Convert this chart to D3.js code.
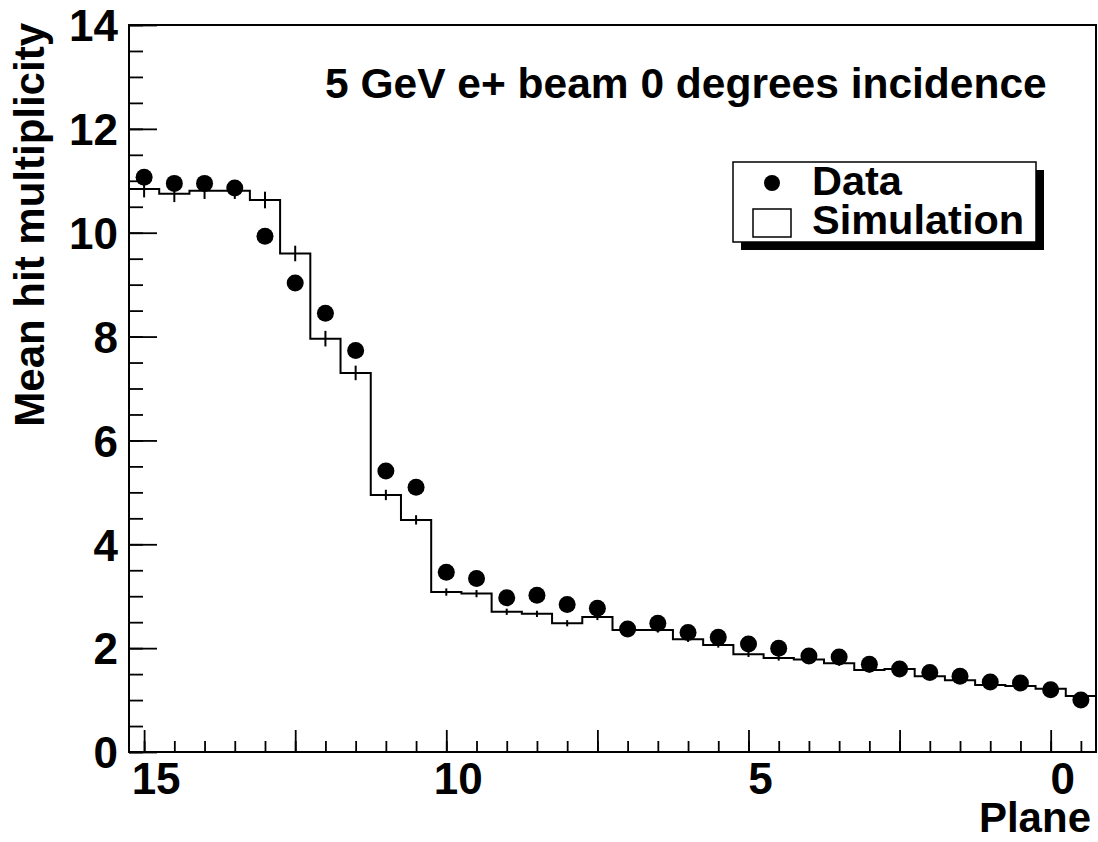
<!DOCTYPE html>
<html>
<head>
<meta charset="utf-8">
<script src="https://cdn.jsdelivr.net/npm/d3@7"></script>
<style>
  html, body { margin: 0; padding: 0; background: #fff; }
  svg { display: block; }
  text { font-family: "Liberation Sans", Arial, Helvetica, sans-serif; font-weight: bold; fill: #000; }
</style>
</head>
<body>
<svg id="chart" width="1098" height="842"></svg>
<script>
// Plane numbers (half-plane bins), from the front of the stack to the back
const planes = [15, 14.5, 14, 13.5, 13, 12.5, 12, 11.5, 11, 10.5, 10, 9.5, 9, 8.5, 8, 7.5,
                7, 6.5, 6, 5.5, 5, 4.5, 4, 3.5, 3, 2.5, 2, 1.5, 1, 0.5, 0, -0.5];

// Measured mean hit multiplicity
const dataValues = [11.07, 10.95, 10.95, 10.86, 9.93, 9.03, 8.45, 7.73, 5.41, 5.10, 3.46, 3.34,
                    2.97, 3.02, 2.84, 2.77, 2.37, 2.48, 2.30, 2.21, 2.08, 2.00, 1.85, 1.83,
                    1.69, 1.60, 1.53, 1.46, 1.35, 1.33, 1.20, 1.00];

// Simulated mean hit multiplicity and its statistical error
const simValues = [10.84, 10.75, 10.81, 10.81, 10.63, 9.60, 7.96, 7.30, 4.95, 4.47, 3.08, 3.05,
                   2.70, 2.66, 2.48, 2.60, 2.35, 2.35, 2.17, 2.06, 1.88, 1.81, 1.78, 1.71,
                   1.58, 1.60, 1.46, 1.38, 1.29, 1.27, 1.22, 1.08];
const simErrors = [0.16, 0.16, 0.16, 0.16, 0.16, 0.15, 0.15, 0.14, 0.10, 0.09, 0.07, 0.07,
                   0.06, 0.06, 0.06, 0.06, 0.05, 0.05, 0.05, 0.05, 0.05, 0.05, 0.05, 0.05,
                   0.05, 0.05, 0.04, 0.04, 0.04, 0.04, 0.04, 0.04];

// Axis ticks
const xLabelTicks = [15, 10, 5, 0];
const xMajorTicks = [15, 12.5, 10, 7.5, 5, 2.5, 0];
const xMinorTicks = d3.range(15, -0.51, -0.5);
const yLabelTicks = [0, 2, 4, 6, 8, 10, 12, 14];
const yMinorTicks = d3.range(0, 14.01, 0.5);

const titleText = "5 GeV e+ beam 0 degrees incidence";
const xTitle = "Plane";
const yTitle = "Mean hit multiplicity";
const legendLabels = ["Data", "Simulation"];

const binWidth = 0.5;
const svg = d3.select("#chart");
const frame = { left: 129, right: 1096, top: 25, bottom: 752 };

const x = d3.scaleLinear().domain([15.25, -0.75]).range([frame.left, frame.right]);
const y = d3.scaleLinear().domain([0, 14]).range([frame.bottom, frame.top]);

// Y axis: minor + major ticks pointing into the frame
const gy = svg.append("g").attr("transform", `translate(${frame.left},0)`);
gy.call(d3.axisLeft(y).tickValues(yMinorTicks).tickSize(-14).tickFormat(""))
  .call(g => g.select(".domain").remove());
const gyMaj = svg.append("g").attr("transform", `translate(${frame.left},0)`);
gyMaj.call(d3.axisLeft(y).tickValues(yLabelTicks).tickSize(-28).tickPadding(11).tickFormat(d3.format("d")))
  .call(g => g.select(".domain").remove());
gyMaj.selectAll("text").attr("font-size", 44).attr("font-family", null).attr("dy", "0.36em");

// X axis: reversed plane scale
const gx = svg.append("g").attr("transform", `translate(0,${frame.bottom})`);
gx.call(d3.axisBottom(x).tickValues(xMinorTicks).tickSize(-11).tickFormat(""))
  .call(g => g.select(".domain").remove());
const gxMaj = svg.append("g").attr("transform", `translate(0,${frame.bottom})`);
gxMaj.call(d3.axisBottom(x).tickValues(xMajorTicks).tickSize(-22).tickFormat(""))
  .call(g => g.select(".domain").remove());
svg.selectAll("g .tick line").attr("stroke", "#000").attr("stroke-width", 1.8);

svg.append("g").selectAll("text").data(xLabelTicks).join("text")
  .attr("x", d => x(d) + 12)
  .attr("y", frame.bottom + 42)
  .attr("text-anchor", "middle")
  .attr("font-size", 44)
  .text(d => d);

// Frame
svg.append("rect")
  .attr("x", frame.left).attr("y", frame.top)
  .attr("width", frame.right - frame.left).attr("height", frame.bottom - frame.top)
  .attr("fill", "none").attr("stroke", "#000").attr("stroke-width", 2);

// Simulation histogram (step outline across the bins)
const simPts = [];
planes.forEach((p, i) => {
  simPts.push([x(p + binWidth / 2), y(simValues[i])]);
  simPts.push([x(p - binWidth / 2), y(simValues[i])]);
});
svg.append("path")
  .attr("d", d3.line()(simPts))
  .attr("fill", "none").attr("stroke", "#000").attr("stroke-width", 2);

// Simulation error bars
svg.append("g").selectAll("line").data(planes).join("line")
  .attr("x1", d => x(d)).attr("x2", d => x(d))
  .attr("y1", (d, i) => y(simValues[i] - simErrors[i]))
  .attr("y2", (d, i) => y(simValues[i] + simErrors[i]))
  .attr("stroke", "#000").attr("stroke-width", 2);

// Data markers
svg.append("g").selectAll("circle").data(planes).join("circle")
  .attr("cx", d => x(d))
  .attr("cy", (d, i) => y(dataValues[i]))
  .attr("r", 8.5)
  .attr("fill", "#000");

// Title
svg.append("text")
  .attr("x", 325).attr("y", 98)
  .attr("font-size", 42.5)
  .text(titleText);

// Axis titles
svg.append("text")
  .attr("x", frame.right - 5).attr("y", 832)
  .attr("text-anchor", "end")
  .attr("font-size", 42)
  .text(xTitle);

svg.append("text")
  .attr("transform", `translate(44,${frame.top - 2}) rotate(-90)`)
  .attr("text-anchor", "end")
  .attr("font-size", 42)
  .text(yTitle);

// Legend with drop shadow
const lg = { x: 733, y: 162, w: 303, h: 80, sh: 8 };
const legend = svg.append("g");
legend.append("rect")
  .attr("x", lg.x + lg.sh).attr("y", lg.y + lg.sh)
  .attr("width", lg.w).attr("height", lg.h)
  .attr("fill", "#000");
legend.append("rect")
  .attr("x", lg.x).attr("y", lg.y)
  .attr("width", lg.w).attr("height", lg.h)
  .attr("fill", "#fff").attr("stroke", "#000").attr("stroke-width", 1.5);
legend.append("circle")
  .attr("cx", lg.x + 39).attr("cy", lg.y + 21).attr("r", 8).attr("fill", "#000");
legend.append("rect")
  .attr("x", lg.x + 20).attr("y", lg.y + 47)
  .attr("width", 38).attr("height", 28)
  .attr("fill", "#fff").attr("stroke", "#000").attr("stroke-width", 1.5);
legend.selectAll("text.lbl").data(legendLabels).join("text")
  .attr("class", "lbl")
  .attr("x", lg.x + 79)
  .attr("y", (d, i) => lg.y + 33 + i * 39)
  .attr("font-size", 41.5)
  .text(d => d);
</script>
</body>
</html>
